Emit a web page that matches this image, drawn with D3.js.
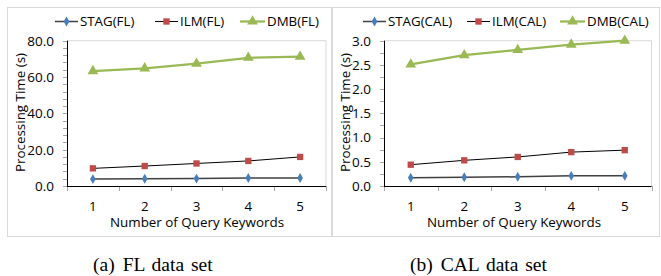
<!DOCTYPE html>
<html>
<head>
<meta charset="utf-8">
<script src="https://cdn.jsdelivr.net/npm/d3@7"></script>
<style>
  body { margin: 0; background: #fff; }
  text { font-family: "Open Sans", "Noto Sans", sans-serif; fill: #000; }
  text.caption { font-family: "Liberation Serif", "DejaVu Serif", serif; }
</style>
</head>
<body>
<div id="chart"></div>
<script>
// values
let keywords = [1, 2, 3, 4, 5];

let stagFL = [3.8, 4.0, 4.1, 4.4, 4.4];
let ilmFL  = [9.7, 11.0, 12.4, 13.8, 16.0];
let dmbFL  = [63.3, 64.8, 67.4, 70.6, 71.2];

let stagCAL = [0.17, 0.18, 0.19, 0.21, 0.21];
let ilmCAL  = [0.44, 0.53, 0.60, 0.70, 0.74];
let dmbCAL  = [2.51, 2.70, 2.81, 2.92, 3.00];

let ticksFL  = [0, 20, 40, 60, 80];
let ticksCAL = [0, 0.5, 1.0, 1.5, 2.0, 2.5, 3.0];

let width = 661, height = 276;

let svg = d3.select('#chart')
    .append('svg')
    .attr('width', width)
    .attr('height', height);

let drawPanel = function (p) {
    let g = svg.append('g');

    // outer frame
    g.append('rect')
        .attr('x', p.frame[0] + 0.5).attr('y', 7.5)
        .attr('width', p.frame[1] - p.frame[0]).attr('height', 229)
        .attr('fill', 'none').attr('stroke', '#d9d9d9');

    let x = d3.scaleBand().domain(keywords).range([p.left, p.right]);
    let y = d3.scaleLinear().domain([0, p.max]).range([186, 40.7]);

    // plot area border (top + right)
    g.append('path')
        .attr('d', `M${p.left},${y(p.max)}H${p.right}V${y(0)}`)
        .attr('fill', 'none').attr('stroke', '#d9d9d9');

    // minor ticks
    let minor = d3.range(0, p.max + 1e-9, p.minor);
    g.selectAll('.minor').data(minor).join('line')
        .attr('x1', p.left - 4).attr('x2', p.left)
        .attr('y1', d => Math.round(y(d)) + 0.5).attr('y2', d => Math.round(y(d)) + 0.5)
        .attr('stroke', '#a6a6a6');

    // y labels
    g.selectAll('.ylab').data(p.ticks).join('text')
        .attr('x', p.left - 13).attr('y', d => y(d))
        .attr('dy', '0.36em')
        .attr('text-anchor', 'end')
        .attr('font-size', 13.5)
        .text(d => d.toFixed(1));

    // x ticks at band edges
    let edges = keywords.map(k => x(k)).concat([p.right]);
    g.selectAll('.xt').data(edges).join('line')
        .attr('x1', d => Math.round(d) + 0.5).attr('x2', d => Math.round(d) + 0.5)
        .attr('y1', y(0)).attr('y2', y(0) + 5)
        .attr('stroke', '#a6a6a6');

    g.selectAll('.xlab').data(keywords).join('text')
        .attr('x', d => x(d) + x.bandwidth() / 2).attr('y', 210.5)
        .attr('text-anchor', 'middle')
        .attr('font-size', 13.3)
        .text(d => d);

    // axes lines
    g.append('line')
        .attr('x1', p.left + 0.5).attr('x2', p.left + 0.5)
        .attr('y1', y(p.max)).attr('y2', y(0))
        .attr('stroke', '#000');
    g.append('line')
        .attr('x1', p.left).attr('x2', p.right)
        .attr('y1', y(0) + 0.5).attr('y2', y(0) + 0.5)
        .attr('stroke', '#000');

    // titles
    g.append('text')
        .attr('x', p.xtitleX).attr('y', 227)
        .attr('text-anchor', 'middle')
        .attr('font-size', 13.4)
        .text('Number of Query Keywords');
    g.append('text')
        .attr('transform', `translate(${p.ytitleX},112.5) rotate(-90)`)
        .attr('text-anchor', 'middle')
        .attr('font-size', 13.4)
        .text('Processing Time (s)');

    // caption
    let cap = svg.append('text')
        .attr('class', 'caption')
        .attr('x', p.captionX).attr('y', 271)
        .attr('font-size', 19.5)
        .style('word-spacing', '2px');
    cap.append('tspan').text(p.caption[0]);
    cap.append('tspan').attr('dx', 8).text(p.caption[1]);

    let cx = d => x(d) + x.bandwidth() / 2;
    let line = vals => d3.line().x((v, i) => cx(keywords[i])).y(v => y(v))(vals);

    p.series.forEach(s => {
        g.append('path')
            .attr('d', line(s.values))
            .attr('fill', 'none')
            .attr('stroke', s.line)
            .attr('stroke-width', s.lw);
        g.selectAll(null).data(s.values).join('path')
            .attr('transform', (v, i) => `translate(${cx(keywords[i])},${y(v)})`)
            .attr('d', d3.symbol().type(s.symbol).size(s.size))
            .attr('fill', s.color);

        // legend
        let lg = g.append('g').attr('transform', `translate(${s.lx},21.5)`);
        lg.append('line').attr('x1', 0).attr('x2', s.lw2)
            .attr('stroke', s.line).attr('stroke-width', s.lw);
        lg.append('path')
            .attr('transform', `translate(${s.lw2 / 2},0)`)
            .attr('d', d3.symbol().type(s.symbol).size(s.size))
            .attr('fill', s.color);
        lg.append('text').attr('x', s.lw2 + 2).attr('dy', '0.36em')
            .attr('font-size', 13.3)
            .text(s.name);
    });
};

let blue = '#4a7ebb', red = '#be4b48', green = '#98b954';

drawPanel({
    frame: [7, 331], left: 67, right: 326, max: 80, minor: 4,
    ticks: ticksFL, ytitleX: 25, xtitleX: 197, captionX: 93, caption: ['(a)', 'FL data set'],
    series: [
        {name: 'STAG(FL)', values: stagFL, color: blue, line: '#404040', lw: 1.5, symbol: d3.symbolDiamond, size: 28, lx: 55, lw2: 23},
        {name: 'ILM(FL)', values: ilmFL, color: red, line: '#000', lw: 1, symbol: d3.symbolSquare, size: 40, lx: 155, lw2: 23},
        {name: 'DMB(FL)', values: dmbFL, color: green, line: green, lw: 2.25, symbol: d3.symbolTriangle, size: 50, lx: 240, lw2: 25}
    ]
});

drawPanel({
    frame: [332, 659], left: 384, right: 651.5, max: 3, minor: 0.25,
    ticks: ticksCAL, ytitleX: 350, xtitleX: 514, captionX: 410, caption: ['(b)', 'CAL data set'],
    series: [
        {name: 'STAG(CAL)', values: stagCAL, color: blue, line: '#404040', lw: 1.5, symbol: d3.symbolDiamond, size: 28, lx: 363, lw2: 23},
        {name: 'ILM(CAL)', values: ilmCAL, color: red, line: '#000', lw: 1, symbol: d3.symbolSquare, size: 40, lx: 467, lw2: 23},
        {name: 'DMB(CAL)', values: dmbCAL, color: green, line: green, lw: 2.25, symbol: d3.symbolTriangle, size: 50, lx: 560, lw2: 25}
    ]
});
</script>
</body>
</html>
